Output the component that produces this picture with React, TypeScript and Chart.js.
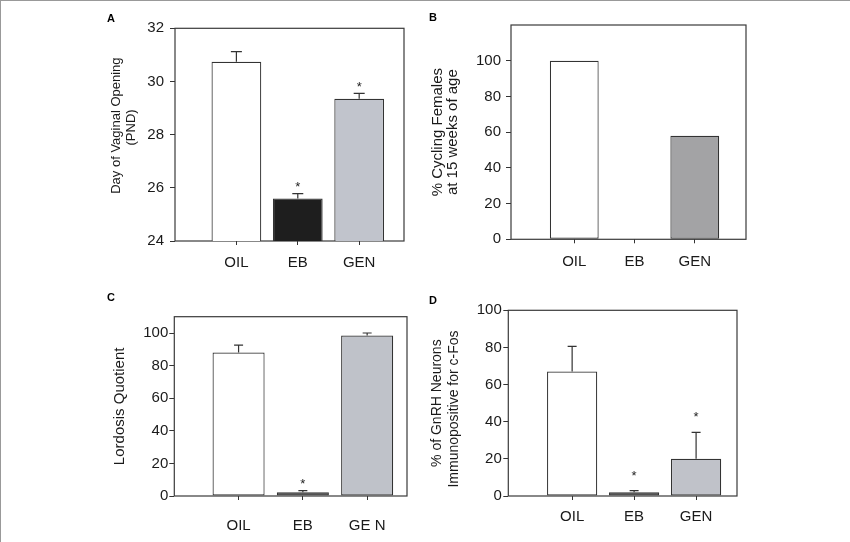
import { useEffect, useRef } from 'react';
import { Chart, registerables } from 'chart.js';

Chart.register(...registerables);

const FONT = "'Liberation Sans', Arial, Helvetica, sans-serif";
const NB = '\u00a0';

// treatment groups
const groups = ['OIL', 'EB', 'GEN'];
const groupsC = ['OIL', 'EB', 'GE N'];

// A: day of vaginal opening (PND), mean + SEM
const vagOpenMean = [30.74, 25.6, 29.35];
const vagOpenSem = [0.38, 0.18, 0.2];
const vagOpenStar = [false, true, true];
const vagOpenTicks = [24, 26, 28, 30, 32];

// B: % cycling females at 15 weeks
const cyclingPct = [100, 0, 58];
const cyclingTicks = [0, 20, 40, 60, 80, 100];

// C: lordosis quotient
const lordosisMean = [88, 2.3, 98.5];
const lordosisSem = [4.6, 1.0, 1.5];
const lordosisStar = [false, true, false];
const lordosisTicks = [0, 20, 40, 60, 80, 100];

// D: % GnRH neurons c-Fos positive
const cfosMean = [67, 2, 20];
const cfosSem = [13.6, 0.9, 14.3];
const cfosStar = [false, true, true];
const cfosTicks = [0, 20, 40, 60, 80, 100];

interface PanelProps {
  box: { left: number; top: number; width: number; height: number };
  area: { left: number; top: number; right: number; bottom: number };
  labels: string[];
  values: number[];
  sem?: number[];
  stars?: boolean[];
  ticks: number[];
  yMin: number;
  yMax: number;
  xMin: number;
  xMax: number;
  colors: string[];
  title: string[];
  titleSize: number;
  titleLine: number;
  titleX: number;
  tickPad: number;
  labelPad: number;
  starGap: number;
  capHalf: number;
}

function Panel(p: PanelProps) {
  const canvasRef = useRef<HTMLCanvasElement>(null);
  const chartRef = useRef<Chart | null>(null);

  useEffect(() => {
    if (!canvasRef.current) return;
    if (chartRef.current) chartRef.current.destroy();

    const yWidth = p.area.left - p.box.left;
    const xHeight = p.box.top + p.box.height - p.area.bottom;
    const lh = p.titleSize * p.titleLine;

    const frame = {
      id: 'frame',
      beforeDatasetsDraw(chart: any) {
        const { ctx, chartArea: a } = chart;
        ctx.save();
        ctx.strokeStyle = '#3a3a3a';
        ctx.lineWidth = 1.2;
        ctx.strokeRect(a.left, a.top, a.right - a.left, a.bottom - a.top);
        ctx.restore();
      },
    };

    const errorBars = {
      id: 'errorBars',
      afterDatasetsDraw(chart: any) {
        const { ctx } = chart;
        const y = chart.scales.y;
        const meta = chart.getDatasetMeta(0);
        ctx.save();
        ctx.strokeStyle = '#333';
        ctx.lineWidth = 1.2;
        ctx.fillStyle = '#222';
        ctx.font = `13px ${FONT}`;
        ctx.textAlign = 'center';
        ctx.textBaseline = 'alphabetic';
        meta.data.forEach((bar: any, i: number) => {
          let top = bar.y;
          const s = p.sem ? p.sem[i] : undefined;
          if (s != null) {
            const yTop = y.getPixelForValue(p.values[i] + s);
            ctx.beginPath();
            ctx.moveTo(bar.x, bar.y);
            ctx.lineTo(bar.x, yTop);
            ctx.moveTo(bar.x - p.capHalf, yTop);
            ctx.lineTo(bar.x + p.capHalf, yTop);
            ctx.stroke();
            top = yTop;
          }
          if (p.stars && p.stars[i]) {
            ctx.fillText('*', bar.x, top - p.starGap + 0.57 * 13);
          }
        });
        ctx.restore();
      },
    };

    chartRef.current = new Chart(canvasRef.current, {
      type: 'bar',
      data: {
        datasets: [
          {
            data: p.values.map((v, i) => ({ x: i + 1, y: v })),
            backgroundColor: p.colors,
            borderColor: '#333',
            borderWidth: 1.2,
            borderSkipped: false,
            categoryPercentage: 1,
            barPercentage: 0.81,
          },
        ],
      },
      options: {
        animation: false,
        responsive: true,
        maintainAspectRatio: false,
        layout: {
          padding: {
            left: 0,
            top: p.area.top - p.box.top,
            right: p.box.left + p.box.width - p.area.right,
            bottom: 0,
          },
        },
        plugins: { legend: { display: false }, tooltip: { enabled: false } },
        scales: {
          x: {
            type: 'linear',
            min: p.xMin,
            max: p.xMax,
            offset: false,
            border: { display: false },
            grid: {
              offset: false,
              drawOnChartArea: false,
              drawTicks: true,
              tickLength: 4,
              color: '#333',
            },
            afterBuildTicks: (scale: any) => {
              scale.ticks = p.labels.map((_, i) => ({ value: i + 1 }));
            },
            afterFit: (scale: any) => {
              scale.height = xHeight;
            },
            ticks: {
              autoSkip: false,
              maxRotation: 0,
              padding: p.labelPad,
              color: '#1a1a1a',
              font: { family: FONT, size: 15 },
              callback: (v: any) => p.labels[Math.round(Number(v)) - 1] ?? '',
            },
          },
          y: {
            min: p.yMin,
            max: p.yMax,
            border: { display: false },
            grid: {
              drawOnChartArea: false,
              drawTicks: true,
              tickLength: 5,
              color: '#333',
            },
            afterBuildTicks: (scale: any) => {
              scale.ticks = p.ticks.map((v) => ({ value: v }));
            },
            afterFit: (scale: any) => {
              scale.width = yWidth;
            },
            ticks: {
              padding: p.tickPad,
              color: '#1a1a1a',
              font: { family: FONT, size: 15 },
            },
            title: {
              display: true,
              text: p.title,
              color: '#1a1a1a',
              font: { family: FONT, size: p.titleSize, lineHeight: p.titleLine },
              padding: { top: p.titleX - p.box.left - lh / 2, bottom: 0 },
            },
          },
        },
      },
      plugins: [frame, errorBars],
    } as any);

    return () => {
      if (chartRef.current) {
        chartRef.current.destroy();
        chartRef.current = null;
      }
    };
  }, [p]);

  return (
    <div
      style={{
        position: 'absolute',
        left: p.box.left,
        top: p.box.top,
        width: p.box.width,
        height: p.box.height,
      }}
    >
      <canvas ref={canvasRef} />
    </div>
  );
}

const panelA: PanelProps = {
  box: { left: 90, top: 0, width: 330, height: 285 },
  area: { left: 174, top: 27.3, right: 403, bottom: 240 },
  labels: groups,
  values: vagOpenMean,
  sem: vagOpenSem,
  stars: vagOpenStar,
  ticks: vagOpenTicks,
  yMin: 24,
  yMax: 32,
  xMin: 0,
  xMax: 3.73,
  colors: ['#ffffff', '#1e1e1e', '#c1c4cc'],
  // leading spaces lift the title slightly above the axis centre, as in the figure
  title: [NB.repeat(5) + 'Day of Vaginal Opening', NB.repeat(4) + '(PND)'],
  titleSize: 13,
  titleLine: 1.1,
  titleX: 115.7,
  tickPad: 6,
  labelPad: 8.5,
  starGap: 10,
  capHalf: 5.5,
};

const panelB: PanelProps = {
  box: { left: 420, top: 0, width: 330, height: 285 },
  area: { left: 510, top: 24, right: 745, bottom: 238.3 },
  labels: groups,
  values: cyclingPct,
  ticks: cyclingTicks,
  yMin: 0,
  yMax: 120,
  xMin: -0.05,
  xMax: 3.85,
  colors: ['#ffffff', '#1e1e1e', '#a3a3a5'],
  title: ['% Cycling Females', 'at 15 weeks of age'],
  titleSize: 15,
  titleLine: 1.0,
  titleX: 436.7,
  tickPad: 5,
  labelPad: 10,
  starGap: 10,
  capHalf: 5,
};

const panelC: PanelProps = {
  box: { left: 90, top: 285, width: 330, height: 257 },
  area: { left: 173.3, top: 315.7, right: 406, bottom: 495 },
  labels: groupsC,
  values: lordosisMean,
  sem: lordosisSem,
  stars: lordosisStar,
  ticks: lordosisTicks,
  yMin: 0,
  yMax: 110,
  xMin: 0,
  xMax: 3.62,
  colors: ['#ffffff', '#1e1e1e', '#bfc2c9'],
  title: ['Lordosis Quotient'],
  titleSize: 15,
  titleLine: 1.2,
  titleX: 119.3,
  tickPad: 1,
  labelPad: 17,
  starGap: 10,
  capHalf: 4.5,
};

const panelD: PanelProps = {
  box: { left: 420, top: 285, width: 330, height: 257 },
  area: { left: 507.3, top: 309.3, right: 736, bottom: 495 },
  labels: groups,
  values: cfosMean,
  sem: cfosSem,
  stars: cfosStar,
  ticks: cfosTicks,
  yMin: 0,
  yMax: 100,
  xMin: -0.03,
  xMax: 3.66,
  colors: ['#ffffff', '#1e1e1e', '#c0c2c9'],
  title: ['% of GnRH Neurons', 'Immunopositive for c-Fos' + NB.repeat(3)],
  titleSize: 14,
  titleLine: 1.24,
  titleX: 436,
  tickPad: 1.5,
  labelPad: 8,
  starGap: 18.5,
  capHalf: 4.5,
};

const letterStyle = (left: number, top: number): React.CSSProperties => ({
  position: 'absolute',
  left,
  top,
  font: `bold 11px ${FONT}`,
  lineHeight: '11px',
  color: '#000',
});

export default function App() {
  return (
    <div
      style={{
        position: 'absolute',
        left: 0,
        top: 0,
        width: 850,
        height: 542,
        background: '#fff',
        borderTop: '1px solid #999',
        borderLeft: '1px solid #999',
        boxSizing: 'border-box',
      }}
    >
      <Panel {...panelA} />
      <Panel {...panelB} />
      <Panel {...panelC} />
      <Panel {...panelD} />
      <div style={letterStyle(106, 11.5)}>A</div>
      <div style={letterStyle(428, 11)}>B</div>
      <div style={letterStyle(106, 291)}>C</div>
      <div style={letterStyle(428, 293.5)}>D</div>
    </div>
  );
}
